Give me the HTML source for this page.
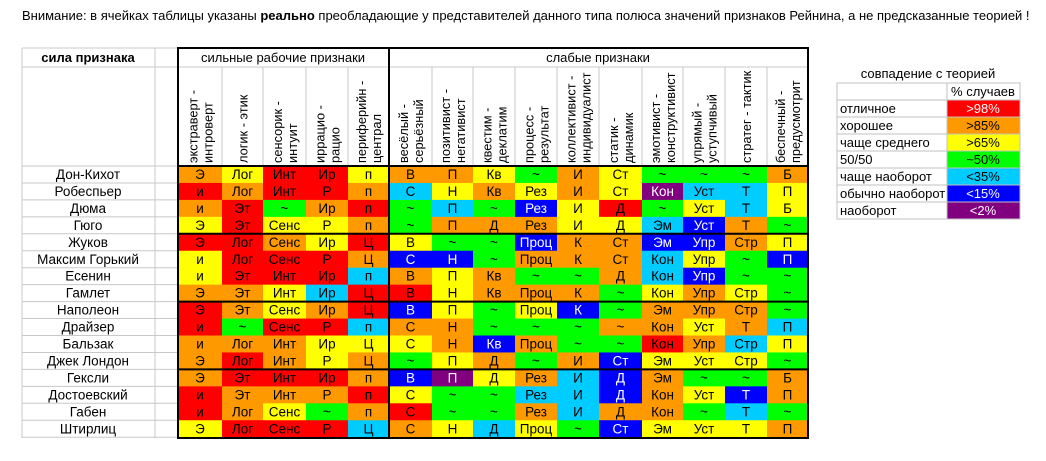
<!DOCTYPE html>
<html><head><meta charset="utf-8">
<style>
html,body{margin:0;padding:0;background:#fff;width:1046px;height:461px;overflow:hidden}
svg text{font-family:"Liberation Sans","DejaVu Sans",sans-serif}
</style></head>
<body>
<svg id="s" width="1046" height="461" xmlns="http://www.w3.org/2000/svg">
<text x="22" y="20" font-size="13" fill="#000">Внимание: в ячейках таблицы указаны <tspan font-weight="bold">реально</tspan> преобладающие у представителей данного типа полюса значений признаков Рейнина, а не предсказанные теорией !</text>
</svg>
<script>
const names=["Дон-Кихот","Робеспьер","Дюма","Гюго","Жуков","Максим Горький","Есенин","Гамлет","Наполеон","Драйзер","Бальзак","Джек Лондон","Гексли","Достоевский","Габен","Штирлиц"];
const strongHeaders=[["экстраверт -","интроверт"],["логик - этик"],["сенсорик -","интуит"],["иррацио -","рацио"],["периферийн -","централ"]];
const weakHeaders=[["весёлый -","серьёзный"],["позитивист -","негативист"],["квестим -","деклатим"],["процесс -","результат"],["коллективист -","индивидуалист"],["статик -","динамик"],["эмотивист -","конструктивист"],["упрямый -","уступчивый"],["стратег - тактик"],["беспечный -","предусмотрит"]];
const cellText=[
"Э Лог Инт Ир п В П Кв ~ И Ст ~ ~ ~ Б",
"и Лог Инт Р п С Н Кв Рез И Ст Кон Уст Т П",
"и Эт ~ Ир п ~ П ~ Рез И Д ~ Уст Т Б",
"Э Эт Сенс Р п ~ П Д Рез И Д Эм Уст Т ~",
"Э Лог Сенс Ир Ц В ~ ~ Проц К Ст Эм Упр Стр П",
"и Лог Сенс Р Ц С Н ~ Проц К Ст Кон Упр ~ П",
"и Эт Инт Ир п В П Кв ~ ~ Д Кон Упр ~ ~",
"Э Эт Инт Ир Ц В Н Кв Проц К ~ Кон Упр Стр ~",
"Э Эт Сенс Ир Ц В П ~ Проц К ~ Эм Упр Стр ~",
"и ~ Сенс Р п С Н ~ ~ ~ ~ Кон Уст Т П",
"и Лог Инт Ир Ц С Н Кв Проц ~ ~ Кон Упр Стр П",
"Э Лог Инт Р Ц ~ П Д ~ И Ст Эм Уст Стр ~",
"Э Эт Инт Ир п В П Д Рез И Д Эм ~ ~ Б",
"и Эт Инт Р п С ~ ~ Рез И Д Кон Уст Т П",
"и Лог Сенс ~ п С ~ ~ Рез И Д Кон ~ Т ~",
"Э Лог Сенс Р Ц С Н Д Проц ~ Ст Эм Уст Т П"];
const cellLevel=[
"oyrryooygoygggo",
"rorrocyoyoypccy",
"orgorgcgbyrgycy",
"yryyogoooyycbog",
"rroyryggboobboy",
"yrrrobbgooocygb",
"yrrrcoyoggocbgg",
"ooycrryooogyoyg",
"royorbygybgooog",
"rgrrcoogggooyoc",
"oooyyyoboggrocy",
"oroyogyogobyyyg",
"orrrobpyocboggo",
"roooryggccboybo",
"roygorggocoogcg",
"yrrrcoycygbyyyo"];
const legendLabels=["отличное","хорошее","чаще среднего","50/50","чаще наоборот","обычно наоборот","наоборот"];
const legendValues=[">98%",">85%",">65%","~50%","<35%","<15%","<2%"];
const legendLevels=["r","o","y","g","c","b","p"];
</script>
<script>
const COL={r:"#ff0000",o:"#ff9900",y:"#ffff00",g:"#00ff00",c:"#00ccff",b:"#0000ff",p:"#800080"};
const svg=document.getElementById('s');
const NS="http://www.w3.org/2000/svg";
function mk(t,a){const e=document.createElementNS(NS,t);for(const k in a)e.setAttribute(k,a[k]);svg.appendChild(e);return e;}
const xs=[178,222,263,306,348,389,432,473,515,557,599,642,683,725,767,808];
const top0=166,rh=16.95;
const rowY=i=>top0+i*rh;
for(let i=0;i<=16;i++){mk('line',{x1:22,x2:178,y1:rowY(i),y2:rowY(i),stroke:'#c8c8c8','stroke-width':1});}
mk('line',{x1:22,x2:178,y1:48,y2:48,stroke:'#c8c8c8'});
mk('line',{x1:22,x2:808,y1:67,y2:67,stroke:'#c8c8c8'});
[22,155].forEach(x=>mk('line',{x1:x,x2:x,y1:48,y2:438,stroke:'#c8c8c8'}));
for(let j=1;j<15;j++){if(j==5)continue;mk('line',{x1:xs[j],x2:xs[j],y1:67,y2:166,stroke:'#c8c8c8'});}
let t=mk('text',{x:88,y:62,'font-size':13,'font-weight':'bold','text-anchor':'middle'});t.textContent="сила признака";


t=mk('text',{x:283,y:62,'font-size':13,'text-anchor':'middle'});t.textContent="сильные рабочие признаки";


t=mk('text',{x:598,y:62,'font-size':13,'text-anchor':'middle'});t.textContent="слабые признаки";


const heads=strongHeaders.concat(weakHeaders);
heads.forEach((h,j)=>{
  const cx=(xs[j]+xs[j+1])/2;
  h.forEach((line,k)=>{
    const bx=cx+5+(k-(h.length-1)/2)*15;
    const e=mk('text',{x:0,y:0,'font-size':12.8,transform:`translate(${bx},163) rotate(-90)`});
    e.textContent=line;
    
    
  });
});
names.forEach((n,i)=>{
  const y=rowY(i);
  const e=mk('text',{x:88,y:y+13,'font-size':13.5,'text-anchor':'middle'});e.textContent=n;
  
  
  const words=cellText[i].split(' ');
  const lv=cellLevel[i];
  for(let j=0;j<15;j++){
    const c=lv[j];
    const r=mk('rect',{x:xs[j],y:y,width:xs[j+1]-xs[j]+0.5,height:rh+0.5,fill:COL[c]});
    
    
    const tx=mk('text',{x:(xs[j]+xs[j+1])/2,y:y+13,'font-size':13.5,'text-anchor':'middle',fill:(c=='b'||c=='p')?'#fff':'#000'});
    tx.textContent=words[j];
    
    
  }
});
const B={stroke:'#000','stroke-width':2,fill:'none'};
mk('rect',Object.assign({x:178,y:48,width:211,height:390},B));
mk('rect',Object.assign({x:389,y:48,width:419,height:390},B));
[0,4,8,12].forEach(i=>mk('line',{x1:178,x2:808,y1:rowY(i),y2:rowY(i),stroke:'#000','stroke-width':2}));
t=mk('text',{x:928,y:78,'font-size':13,'text-anchor':'middle'});t.textContent="совпадение с теорией";


const ly=83,lh=17;
mk('rect',{x:837,y:ly,width:110,height:lh,fill:'#fff',stroke:'#c0c0c0'});
mk('rect',{x:947,y:ly,width:73,height:lh,fill:'#fff',stroke:'#c0c0c0'});
t=mk('text',{x:983,y:ly+13,'font-size':13,'text-anchor':'middle'});t.textContent="% случаев";


legendLabels.forEach((lab,i)=>{
  const y=ly+lh*(i+1);
  mk('rect',{x:837,y:y,width:110,height:lh,fill:'#fff',stroke:'#c0c0c0'});
  const sw=mk('rect',{x:947,y:y,width:73,height:lh,fill:COL[legendLevels[i]],stroke:'#c0c0c0'});
  
  
  const a=mk('text',{x:840,y:y+13,'font-size':13});a.textContent=lab;
  
  
  const lv=legendLevels[i];
  const b=mk('text',{x:983,y:y+13,'font-size':13,'text-anchor':'middle',fill:(lv=='r'||lv=='b'||lv=='p')?'#fff':'#000'});b.textContent=legendValues[i];
  
  
});
</script>
</body></html>
